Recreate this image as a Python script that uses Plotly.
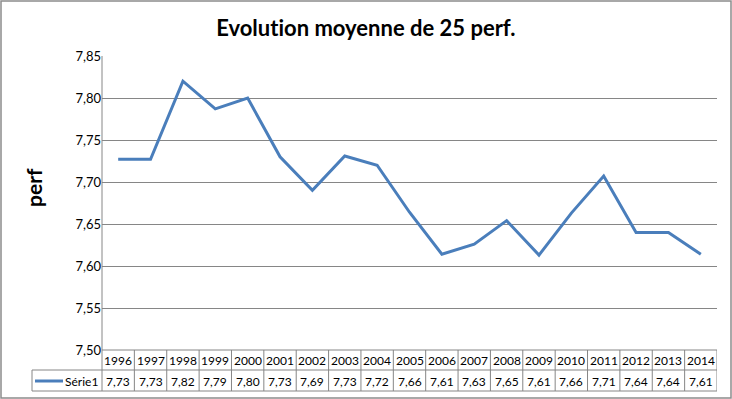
import plotly.graph_objects as go

years = list(range(1996, 2015))
values = [7.727, 7.727, 7.820, 7.787, 7.800, 7.730, 7.690, 7.731, 7.720, 7.664,
          7.614, 7.626, 7.654, 7.613, 7.663, 7.707, 7.640, 7.640, 7.614]
series_name = "Série1"
title_text = "Evolution moyenne de 25 perf."
y_title = "perf"
y_range = [7.50, 7.85]

W, H = 732, 399
ML, MR, MT, MB = 102, 15, 56, 49
PW, PH = W - ML - MR, H - MT - MB

def px_x(p):
    return (p - ML) / PW

def px_y(p):
    return (H - MB - p) / PH

line_color = "#4A7EBB"
grid_color = "#868686"
font_fam = "Lato, 'Open Sans', sans-serif"

fig = go.Figure()
fig.add_trace(go.Scatter(x=years, y=values, mode="lines",
                         line=dict(color=line_color, width=3), showlegend=False,
                         hoverinfo="skip"))

shapes = []
annotations = []
row1_top, row1_bot, row2_bot = px_y(350), px_y(370), px_y(391)
left_label = px_x(32)

shapes.append(dict(type="line", xref="paper", yref="paper", x0=0, x1=1, y0=row1_top, y1=row1_top,
                   line=dict(color=grid_color, width=1)))
for yy in (row1_bot, row2_bot):
    shapes.append(dict(type="line", xref="paper", yref="paper", x0=left_label, x1=1, y0=yy, y1=yy,
                       line=dict(color=grid_color, width=1)))
shapes.append(dict(type="line", xref="paper", yref="paper", x0=left_label, x1=left_label,
                   y0=row1_bot, y1=row2_bot, line=dict(color=grid_color, width=1)))
for i, yr in enumerate(years):
    xs = yr + 0.5
    shapes.append(dict(type="line", xref="x", yref="paper", x0=xs, x1=xs, y0=row1_top, y1=row2_bot,
                       line=dict(color=grid_color, width=1)))
    annotations.append(dict(x=yr, y=px_y(360.5), xref="x", yref="paper",
                            text=str(yr), showarrow=False, yanchor="middle",
                            font=dict(family=font_fam, size=12, color="#000000")))
    annotations.append(dict(x=yr, y=px_y(381), xref="x", yref="paper",
                            text=f"{values[i]:.2f}".replace(".", ","), showarrow=False,
                            yanchor="middle",
                            font=dict(family=font_fam, size=12, color="#000000")))
shapes.append(dict(type="line", xref="paper", yref="paper", x0=0, x1=0, y0=1, y1=row2_bot,
                   line=dict(color=grid_color, width=1)))
shapes.append(dict(type="line", xref="paper", yref="paper", x0=px_x(35), x1=px_x(63),
                   y0=px_y(381), y1=px_y(381),
                   line=dict(color=line_color, width=3)))
annotations.append(dict(x=px_x(63), y=px_y(381), xref="paper", yref="paper",
                        text=series_name, showarrow=False, xanchor="left", yanchor="middle",
                        font=dict(family=font_fam, size=12, color="#000000")))
shapes.append(dict(type="rect", xref="paper", yref="paper",
                   x0=px_x(1), x1=px_x(731), y0=px_y(1), y1=px_y(398),
                   line=dict(color="#8C8C8C", width=1.5)))
annotations.append(dict(x=px_x(366), y=px_y(27), xref="paper", yref="paper",
                        text="<b>" + title_text + "</b>",
                        showarrow=False, font=dict(family=font_fam, size=22, color="#000000"),
                        xanchor="center", yanchor="middle"))
annotations.append(dict(x=px_x(33), y=px_y(188), xref="paper", yref="paper",
                        text="<b>" + y_title + "</b>", textangle=-90, showarrow=False,
                        xanchor="center", yanchor="middle",
                        font=dict(family=font_fam, size=21, color="#000000")))

fig.update_layout(
    width=W, height=H,
    margin=dict(l=ML, r=MR, t=MT, b=MB),
    paper_bgcolor="white", plot_bgcolor="white",
    separators=", ",
    shapes=shapes, annotations=annotations,
    xaxis=dict(range=[1995.5, 2014.5], showticklabels=False, showgrid=False,
               zeroline=False, showline=False, ticks=""),
    yaxis=dict(range=y_range, dtick=0.05, tick0=7.5, tickformat=".2f",
               showgrid=True, gridcolor=grid_color, gridwidth=1, zeroline=False,
               showline=False, ticks="", ticklen=0,
               tickfont=dict(family=font_fam, size=13, color="#000000")),
)
post = ("document.body.style.margin='0';"
        "var s=document.createElement('style');"
        "s.textContent='text{font-variant-ligatures:none !important;font-feature-settings:\"liga\" 0 !important;}';"
        "document.head.appendChild(s);")
fig.write_html("out.html", post_script=post, config={"displayModeBar": False})
